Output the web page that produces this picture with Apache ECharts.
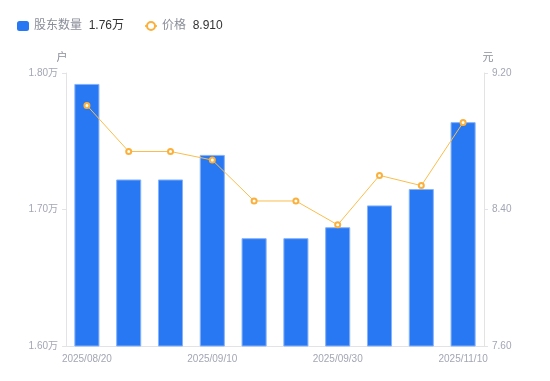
<!DOCTYPE html>
<html><head><meta charset="utf-8">
<script src="https://cdn.jsdelivr.net/npm/echarts@6/dist/echarts.min.js"></script>
<style>html,body{margin:0;padding:0;background:#fff}#c{width:550px;height:381px}</style>
</head><body><div id="c"></div>
<script>
const categories = ['2025/08/20','2025/08/29','2025/09/05','2025/09/10','2025/09/19','2025/09/26','2025/09/30','2025/10/20','2025/10/31','2025/11/10'];
const holders = [1.792, 1.722, 1.722, 1.740, 1.679, 1.679, 1.687, 1.703, 1.715, 1.764];
const prices = [9.010, 8.740, 8.740, 8.690, 8.450, 8.450, 8.310, 8.600, 8.540, 8.910];
const leftTicks = [1.60, 1.70, 1.80];
const rightTicks = [7.60, 8.40, 9.20];

const font = '"Liberation Sans", "Noto Sans CJK SC", sans-serif';
const chart = echarts.init(document.getElementById('c'));
chart.setOption({
  animation: false,
  textStyle: {fontFamily: font},
  legend: {
    left: 12, top: 15, itemGap: 20, itemWidth: 12, itemHeight: 10,
    data: [
      {name: '股东数量', icon: 'roundRect', itemStyle: {borderWidth: 0}},
      {name: '价格'}
    ],
    formatter: function (n) {
      if (n === '股东数量') return '{a|' + n + '}  {b|' + holders[holders.length-1].toFixed(2) + '万}';
      return '{a|' + n + '}  {b|' + prices[prices.length-1].toFixed(3) + '}';
    },
    textStyle: {
      rich: {
        a: {color: '#8a8d99', fontSize: 12, fontFamily: font},
        b: {color: '#333', fontSize: 12, fontFamily: font}
      }
    }
  },
  grid: {left: 66, right: 66, top: 73, bottom: 35},
  xAxis: {
    type: 'category', data: categories,
    axisLine: {lineStyle: {color: '#e3e3e6'}},
    axisTick: {show: false},
    axisLabel: {color: '#a3a6b4', fontSize: 10, interval: 2, margin: 8, fontFamily: font}
  },
  yAxis: [
    {
      type: 'value', name: '户', min: leftTicks[0], max: leftTicks[2], interval: 0.1,
      nameTextStyle: {color: '#8a8d99', fontSize: 11, padding: [0, 8, 0, 0]},
      nameGap: 10,
      axisLine: {show: true, lineStyle: {color: '#e3e3e6'}},
      axisTick: {show: true, length: 4, lineStyle: {color: '#e3e3e6'}},
      splitLine: {show: false},
      axisLabel: {color: '#a3a6b4', fontSize: 10, margin: 8, formatter: v => v.toFixed(2) + '万'}
    },
    {
      type: 'value', name: '元', min: rightTicks[0], max: rightTicks[2], interval: 0.8,
      nameTextStyle: {color: '#8a8d99', fontSize: 11, padding: [0, 0, 0, 8]},
      nameGap: 10,
      axisLine: {show: true, lineStyle: {color: '#e3e3e6'}},
      axisTick: {show: true, length: 4, lineStyle: {color: '#e3e3e6'}},
      splitLine: {show: false},
      axisLabel: {color: '#a3a6b4', fontSize: 10, margin: 8, formatter: v => v.toFixed(2)}
    }
  ],
  series: [
    {
      name: '股东数量', type: 'bar', data: holders, yAxisIndex: 0, barWidth: '60%',
      itemStyle: {color: '#2878f4', borderColor: '#86b2f8', borderWidth: 1}
    },
    {
      name: '价格', type: 'line', data: prices, yAxisIndex: 1,
      symbol: 'emptyCircle', symbolSize: 5,
      lineStyle: {color: '#fbbd4a', width: 1},
      itemStyle: {color: '#fbb03b', borderWidth: 2}
    }
  ]
});
</script></body></html>
